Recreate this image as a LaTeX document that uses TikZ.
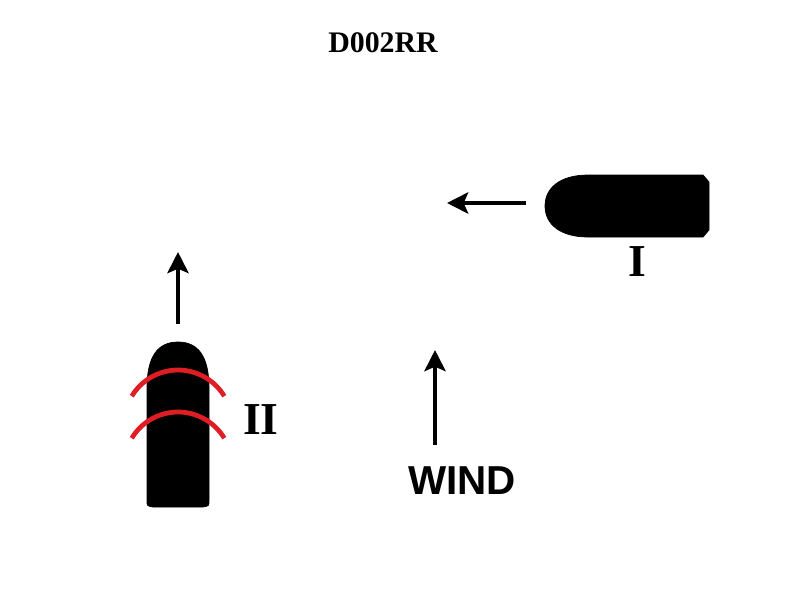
\documentclass[tikz,border=0pt]{standalone}
\usepackage{fontspec}
\setmainfont{Liberation Serif}
\setsansfont{Liberation Sans}
\usetikzlibrary{arrows.meta}
\definecolor{wakered}{RGB}{222,30,36}
\tikzset{
	course/.style={line width=2.8pt, -{Stealth[length=12pt,width=12pt,inset=2.5pt]}},
	hull/.style={fill=black, draw=black},
	wake/.style={line width=2.7pt, color=wakered},
	shiplabel/.style={inner sep=0pt, font=\bfseries\fontsize{26}{30}\selectfont},
	titlelabel/.style={inner sep=0pt, font=\bfseries\fontsize{17}{20}\selectfont},
	windlabel/.style={inner sep=0pt, font=\sffamily\bfseries\fontsize{23}{27}\selectfont}
}

\begin{document}
\begin{tikzpicture}[x=0.02cm, y=-0.02cm]
		%%%%% START %%%%%
		\useasboundingbox (0, 0) rectangle (800, 599);
		
		\node[titlelabel] (title) at (383, 43) {D002RR};
		
		% vessel I, heading west
		\draw[hull] (588, 175) -- (703, 175) -- (709, 182) -- (709, 230) -- (703, 237) -- (588, 237)
			.. controls (560, 237) and (545, 224) .. (545, 206)
			.. controls (545, 188) and (560, 175) .. (588, 175) -- cycle;
		\coordinate (iTail) at (526, 203);
		\coordinate (iTip) at (447, 203);
		\draw[course] (iTail) -- (iTip);
		\node[shiplabel] (labI) at (637, 262) {I};
		
		% vessel II, heading north
		\draw[hull] (147, 388) -- (147, 500) .. controls (147, 506) .. (153, 507) -- (203, 507)
			.. controls (209, 506) .. (209, 500) -- (209, 388)
			.. controls (209, 356) and (198, 342) .. (178, 342)
			.. controls (158, 342) and (147, 356) .. (147, 388) -- cycle;
		\coordinate (iiTail) at (178, 324);
		\coordinate (iiTip) at (178, 252);
		\draw[course] (iiTail) -- (iiTip);
		\node[shiplabel] (labII) at (261, 420) {II};
		
		% fog signal marks
		\draw[wake] (178, 424) ++(-149:54) arc (-149:-31:54);
		\draw[wake] (178, 466) ++(-149:54) arc (-149:-31:54);
		
		% wind
		\coordinate (windTail) at (435, 445);
		\coordinate (windTip) at (435, 350);
		\draw[course] (windTail) -- (windTip);
		\node[windlabel] (wind) at (462, 481) {WIND};
		
		%%%%% END %%%%%
	\end{tikzpicture}
\end{document}
